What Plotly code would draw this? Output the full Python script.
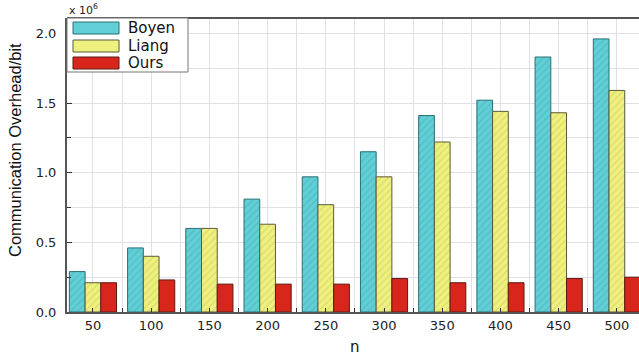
import plotly.graph_objects as go

n_values = [50, 100, 150, 200, 250, 300, 350, 400, 450, 500]
boyen = [0.29, 0.46, 0.60, 0.81, 0.97, 1.15, 1.41, 1.52, 1.83, 1.96]
liang = [0.21, 0.40, 0.60, 0.63, 0.77, 0.97, 1.22, 1.44, 1.43, 1.59]
ours = [0.21, 0.23, 0.20, 0.20, 0.20, 0.24, 0.21, 0.21, 0.24, 0.25]
y_ticks = [0.0, 0.5, 1.0, 1.5, 2.0]
series_names = ["Boyen", "Liang", "Ours"]
fill_colors = ["#62cfd6", "#eef080", "#d9261c"]
line_colors = ["#2a6e72", "#5a5a3a", "#5a1a14"]
hatch_colors = ["#3fa9b2", "#c8c650", None]

W, H = 639, 358
ML, MT, MR, MB = 67, 18, 0, 46
PW, PH = W - ML - MR, H - MT - MB

fig = go.Figure()
for name, vals, fc, lc, hc in zip(series_names, [boyen, liang, ours], fill_colors, line_colors, hatch_colors):
    marker = dict(color=fc, line=dict(color=lc, width=1))
    if hc:
        marker["pattern"] = dict(shape="/", fgcolor=hc, size=5, solidity=0.25)
    fig.add_trace(go.Bar(x=n_values, y=vals, name=name, marker=marker, showlegend=False))

grid = "#e2e0e6"
fig.update_layout(
    width=W, height=H,
    margin=dict(l=ML, r=MR, t=MT, b=MB, autoexpand=False),
    paper_bgcolor="white", plot_bgcolor="white",
    barmode="group", bargap=0.19, bargroupgap=0,
    font=dict(family="DejaVu Sans, Liberation Sans, sans-serif", size=13, color="#222"),
    xaxis=dict(range=[27.7, 519], tickvals=n_values, ticktext=[str(v) for v in n_values],
               showgrid=True, gridcolor=grid, gridwidth=1,
               minor=dict(dtick=25, tick0=25, showgrid=True, gridcolor=grid,
                          ticks="inside", ticklen=4, tickcolor="#333"),
               showline=True, linecolor="#555", linewidth=2,
               ticks="", zeroline=False),
    yaxis=dict(range=[0, 2.11], tickvals=y_ticks, tickformat=".1f",
               showgrid=True, gridcolor=grid,
               minor=dict(dtick=0.25, showgrid=True, gridcolor=grid,
                          ticks="inside", ticklen=4, tickcolor="#333"),
               ticks="inside", ticklen=5, tickcolor="#333", ticklabelstandoff=6,
               showline=True, linecolor="#555", linewidth=2, zeroline=False),
)
fig.add_shape(type="line", xref="paper", yref="paper", x0=0, x1=1, y0=1, y1=1,
              line=dict(color="#555", width=2))

# axis titles
fig.add_annotation(text="Communication Overhead/bit", xref="paper", yref="paper",
                   x=0, y=1 - 132 / PH, xanchor="center", yanchor="middle", xshift=-52,
                   textangle=-90, showarrow=False,
                   font=dict(family="Liberation Sans, Arial, sans-serif", size=16.5, color="#111"))
fig.add_annotation(text="n", xref="paper", yref="paper", x=(355 - ML) / PW, y=0,
                   xanchor="center", yanchor="middle", yshift=-35, showarrow=False,
                   font=dict(family="DejaVu Sans, sans-serif", size=15, color="#111"))
fig.add_annotation(text="x 10<sup>6</sup>", xref="paper", yref="paper", x=0, y=1,
                   xanchor="left", yanchor="bottom", showarrow=False, yshift=-1,
                   font=dict(family="DejaVu Sans, sans-serif", size=11, color="#222"))

# legend box (pixel offsets inside plot area)
fig.add_shape(type="rect", xref="paper", yref="paper", x0=0, x1=121 / PW, y0=1 - 54 / PH, y1=1,
              fillcolor="white", line=dict(color="#777", width=1), layer="above")
rows = [(4, 16), (22, 34), (39, 51)]
for name, fc, lc, (t, b) in zip(series_names, fill_colors, line_colors, rows):
    fig.add_shape(type="rect", xref="paper", yref="paper", x0=6 / PW, x1=52 / PW,
                  y0=1 - b / PH, y1=1 - t / PH, fillcolor=fc, line=dict(color=lc, width=1), layer="above")
    fig.add_annotation(text=name, xref="paper", yref="paper", x=59 / PW, y=1 - (t + b) / 2 / PH,
                       xanchor="left", yanchor="middle", showarrow=False,
                       font=dict(family="DejaVu Sans, sans-serif", size=15, color="#111"))

fig.write_html("out.html", config={"displayModeBar": False},
               post_script="document.body.style.margin='0';document.body.style.overflow='hidden';")
